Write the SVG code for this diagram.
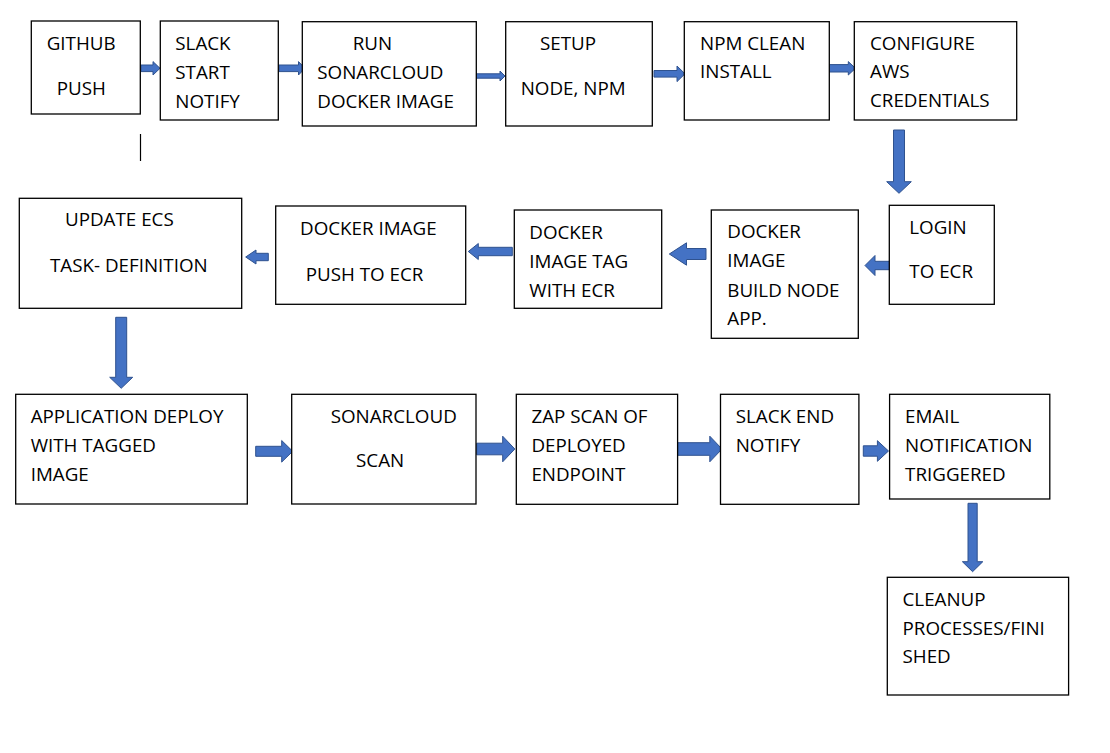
<svg xmlns="http://www.w3.org/2000/svg" width="1110" height="753" viewBox="0 0 1110 753">
<style>
.box{fill:#fff;stroke:#000;stroke-width:1.3}
.t{font-family:"Open Sans","Noto Sans","Liberation Sans",sans-serif;font-size:18.8px;fill:#000}
.arr{fill:#4472C4;stroke:#2F528F;stroke-width:1}
</style>
<rect width="1110" height="753" fill="#fff"/>
<g id="connectors">
<line x1="140.5" y1="134" x2="140.5" y2="161" stroke="#000" stroke-width="1.2"/>
<polygon class="arr" points="141,65 153,65 153,61.6 160,68.3 153,75 153,71.6 141,71.6"/>
<polygon class="arr" points="279,65 298.5,65 298.5,61.6 305,68.3 298.5,75 298.5,71.6 279,71.6"/>
<polygon class="arr" points="476,73.8 500,73.8 500,71 505,76 500,81 500,78.2 476,78.2"/>
<polygon class="arr" points="654,70.5 677,70.5 677,66 685,73.8 677,81.6 677,77.1 654,77.1"/>
<polygon class="arr" points="828.5,64.6 848.3,64.6 848.3,61.6 855.5,68.3 848.3,75 848.3,72 828.5,72"/>
<polygon class="arr" points="893.5,130 904.5,130 904.5,181.7 911.3,181.7 899,193.3 886.7,181.7 893.5,181.7"/>
<polygon class="arr" points="890.7,261.3 875,261.3 875,255.5 865,265.5 875,275.5 875,269.7 890.7,269.7"/>
<polygon class="arr" points="706,248.5 686.5,248.5 686.5,242.8 669.3,254 686.5,265.2 686.5,259.5 706,259.5"/>
<polygon class="arr" points="512.3,247.3 478.3,247.3 478.3,243.5 468.3,251.5 478.3,259.5 478.3,255.7 512.3,255.7"/>
<polygon class="arr" points="268.3,253.3 256,253.3 256,250 245.7,257 256,264 256,260.7 268.3,260.7"/>
<polygon class="arr" points="115.7,317.3 126.7,317.3 126.7,377.3 132.7,377.3 121.2,388.3 109.7,377.3 115.7,377.3"/>
<polygon class="arr" points="255.7,446.3 281.7,446.3 281.7,440.5 292.7,451.3 281.7,462.1 281.7,456.3 255.7,456.3"/>
<polygon class="arr" points="476.7,443.2 502.7,443.2 502.7,436.2 514.8,449 502.7,461.8 502.7,454.8 476.7,454.8"/>
<polygon class="arr" points="677.6,442.7 709.8,442.7 709.8,436.2 722,449 709.8,461.8 709.8,455.3 677.6,455.3"/>
<polygon class="arr" points="863.3,445.8 877.4,445.8 877.4,440.7 888.5,451 877.4,461.3 877.4,456.2 863.3,456.2"/>
<polygon class="arr" points="968,503.3 977.2,503.3 977.2,561.7 982.8,561.7 972.6,571.7 962.4,561.7 968,561.7"/>
</g>
<g id="n-github"><rect class="box" x="31.3" y="21" width="109" height="93"/><text class="t" x="46.7" y="50">GITHUB</text><text class="t" x="56.7" y="95">PUSH</text></g>
<g id="n-slack-start"><rect class="box" x="160.3" y="21" width="118" height="99"/><text class="t" x="175.3" y="50">SLACK</text><text class="t" x="175.3" y="79">START</text><text class="t" x="175.3" y="107.7">NOTIFY</text></g>
<g id="n-run-sonar"><rect class="box" x="302.3" y="21.7" width="174" height="104.3"/><text class="t" x="352.7" y="50">RUN</text><text class="t" x="317.3" y="79">SONARCLOUD</text><text class="t" x="317.3" y="107.5">DOCKER IMAGE</text></g>
<g id="n-setup"><rect class="box" x="505.7" y="21.7" width="146.6" height="104.3"/><text class="t" x="540" y="50">SETUP</text><text class="t" x="520.7" y="95">NODE, NPM</text></g>
<g id="n-npm"><rect class="box" x="684.3" y="21.7" width="145" height="98.3"/><text class="t" x="700" y="50">NPM CLEAN</text><text class="t" x="700" y="78.3">INSTALL</text></g>
<g id="n-aws"><rect class="box" x="854.3" y="21.7" width="162.4" height="98.3"/><text class="t" x="870" y="50">CONFIGURE</text><text class="t" x="870" y="78.3">AWS</text><text class="t" x="870" y="107.3">CREDENTIALS</text></g>
<g id="n-login"><rect class="box" x="889.3" y="205.3" width="105" height="99"/><text class="t" x="909.3" y="234">LOGIN</text><text class="t" x="909.3" y="278.3">TO ECR</text></g>
<g id="n-build"><rect class="box" x="711.3" y="210" width="147" height="128.3"/><text class="t" x="727.3" y="238.3">DOCKER</text><text class="t" x="727.3" y="267.3">IMAGE</text><text class="t" x="727.3" y="296.7">BUILD NODE</text><text class="t" x="727.3" y="325">APP.</text></g>
<g id="n-tag"><rect class="box" x="514.3" y="210" width="147.4" height="98.3"/><text class="t" x="529.3" y="239">DOCKER</text><text class="t" x="529.3" y="267.7">IMAGE TAG</text><text class="t" x="529.3" y="296.7">WITH ECR</text></g>
<g id="n-push"><rect class="box" x="275.7" y="206" width="190" height="98.3"/><text class="t" x="300" y="235">DOCKER IMAGE</text><text class="t" x="305.7" y="280.7">PUSH TO ECR</text></g>
<g id="n-update"><rect class="box" x="19.3" y="198.3" width="222.4" height="110"/><text class="t" x="65" y="226">UPDATE ECS</text><text class="t" x="50" y="271.7">TASK- DEFINITION</text></g>
<g id="n-deploy"><rect class="box" x="15.7" y="394.3" width="231.6" height="109.7"/><text class="t" x="30.7" y="422.7">APPLICATION DEPLOY</text><text class="t" x="30.7" y="451.7">WITH TAGGED</text><text class="t" x="30.7" y="480.7">IMAGE</text></g>
<g id="n-sonar-scan"><rect class="box" x="291.7" y="394.3" width="184.3" height="109.7"/><text class="t" x="330.7" y="422.7">SONARCLOUD</text><text class="t" x="356" y="466.7">SCAN</text></g>
<g id="n-zap"><rect class="box" x="516.3" y="394.3" width="161.3" height="110"/><text class="t" x="531.4" y="423.3">ZAP SCAN OF</text><text class="t" x="531.4" y="451.7">DEPLOYED</text><text class="t" x="531.4" y="480.7">ENDPOINT</text></g>
<g id="n-slack-end"><rect class="box" x="720.5" y="394.3" width="138.4" height="110"/><text class="t" x="735.7" y="423.3">SLACK END</text><text class="t" x="735.7" y="451.7">NOTIFY</text></g>
<g id="n-email"><rect class="box" x="889.6" y="394.3" width="160.2" height="104.7"/><text class="t" x="905.1" y="423.3">EMAIL</text><text class="t" x="905.1" y="451.7">NOTIFICATION</text><text class="t" x="905.1" y="480.7">TRIGGERED</text></g>
<g id="n-cleanup"><rect class="box" x="887.3" y="577.3" width="181.3" height="117.7"/><text class="t" x="902.5" y="605.7">CLEANUP</text><text class="t" x="902.5" y="635">PROCESSES/FINI</text><text class="t" x="902.5" y="663.3">SHED</text></g>
</svg>
